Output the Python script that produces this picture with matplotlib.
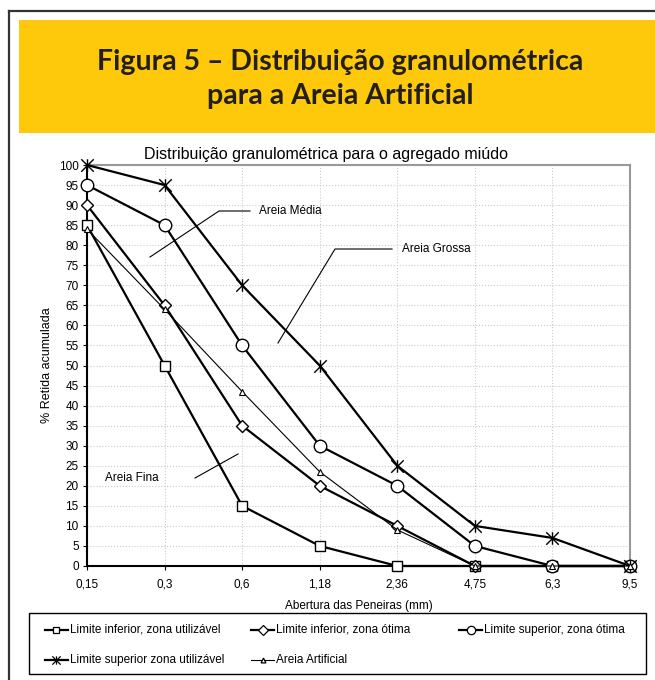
import matplotlib
matplotlib.use("Agg")
import matplotlib.pyplot as plt
from matplotlib.path import Path
from matplotlib.lines import Line2D
from matplotlib.patches import Rectangle
import numpy as np

plt.rcParams['font.family'] = ['Liberation Sans', 'DejaVu Sans']

sieves = ['0,15', '0,3', '0,6', '1,18', '2,36', '4,75', '6,3', '9,5']
lim_inf_util = [85, 50, 15, 5, 0, 0, 0, 0]
lim_inf_otima = [90, 65, 35, 20, 10, 0, 0, 0]
lim_sup_otima = [95, 85, 55, 30, 20, 5, 0, 0]
lim_sup_util = [100, 95, 70, 50, 25, 10, 7, 0]
areia_artificial = [84, 64, 43.5, 23.5, 9, 0, 0, 0]
yticks = list(range(0, 101, 5))

W, H = 655, 680
fig = plt.figure(figsize=(W / 100, H / 100), dpi=100)

def fx(px):
    return px / W

def fy(py):
    return 1 - py / H

# outer frame and yellow band
fig.add_artist(Line2D([fx(9), fx(9)], [fy(11), fy(680)], color='#333333', lw=1.6))
fig.add_artist(Line2D([fx(9), fx(655)], [fy(11), fy(11)], color='#333333', lw=1.6))
fig.add_artist(Rectangle((fx(19), fy(133)), fx(655) - fx(19), fy(20) - fy(133),
                         facecolor='#FDC90A', edgecolor='none'))
fig.text(fx(340), fy(62), 'Figura 5 – Distribuição granulométrica', ha='center', va='center',
         fontsize=20.5, fontfamily=['Lato', 'DejaVu Sans'], fontweight='bold', color='#231F20')
fig.text(fx(340), fy(96), 'para a Areia Artificial', ha='center', va='center',
         fontsize=20.5, fontfamily=['Lato', 'DejaVu Sans'], fontweight='bold', color='#231F20')

# axes
x0, x1, ytop, ybot = 87, 630, 165, 566
ax = fig.add_axes([fx(x0), fy(ybot), fx(x1) - fx(x0), fy(ytop) - fy(ybot)])
x = np.arange(len(sieves))

star = Path([(0, -1), (0, 1), (-1, -1), (1, 1), (-1, 1), (1, -1)],
            [Path.MOVETO, Path.LINETO, Path.MOVETO, Path.LINETO, Path.MOVETO, Path.LINETO])

common = dict(color='black', lw=1.6, mfc='white', mec='black', clip_on=False, zorder=3)
ax.plot(x, lim_inf_util, marker='s', ms=6.5, mew=1.0, **common)
ax.plot(x, lim_inf_otima, marker='D', ms=6.5, mew=1.0, **common)
ax.plot(x, lim_sup_otima, marker='o', ms=9, mew=1.0, **common)
ax.plot(x, lim_sup_util, marker=star, ms=9, mew=1.0, **common)
ax.plot(x, areia_artificial, color='black', lw=0.8, marker='^', ms=4, mfc='white',
        mec='black', mew=0.8, clip_on=False, zorder=4)

ax.set_xlim(0, len(sieves) - 1)
ax.set_ylim(0, 100)
ax.set_xticks(x)
ax.set_xticklabels(sieves)
ax.set_yticks(yticks)
ax.tick_params(labelsize=8.5, length=3, width=0.8, pad=3)
ax.tick_params(axis='x', pad=6)
ax.grid(True, color='#cccccc', linestyle=':', linewidth=0.8)
ax.set_axisbelow(True)
for s in ['left', 'bottom']:
    ax.spines[s].set_color('black')
    ax.spines[s].set_linewidth(1.5)
for s in ['top', 'right']:
    ax.spines[s].set_color('#999999')
    ax.spines[s].set_linewidth(1.5)

fig.text(fx(326), fy(155), 'Distribuição granulométrica para o agregado miúdo',
         fontsize=11.5, ha='center', va='center')
ax.set_ylabel('% Retida acumulada', fontsize=9)
ax.set_xlabel('Abertura das Peneiras (mm)', fontsize=8.5, labelpad=7)

# annotations (figure pixel coordinates)
def ann_line(pts):
    xs = [fx(p[0]) for p in pts]
    ys = [fy(p[1]) for p in pts]
    fig.add_artist(Line2D(xs, ys, color='black', lw=0.8))

ann_line([(150, 257), (219, 211), (250, 211)])
fig.text(fx(259), fy(211), 'Areia Média', fontsize=8.5, va='center', ha='left')
ann_line([(278, 343), (335, 249), (392, 249)])
fig.text(fx(402), fy(249), 'Areia Grossa', fontsize=8.5, va='center', ha='left')
ann_line([(195, 478), (238, 454)])
fig.text(fx(105), fy(478), 'Areia Fina', fontsize=8.5, va='center', ha='left')

# legend box
fig.add_artist(Rectangle((fx(29), fy(674)), fx(646) - fx(29), fy(613) - fy(674),
                         facecolor='white', edgecolor='black', lw=1.0))
entries = [
    ('Limite inferior, zona utilizável', 's', 45, 630, 5, 1.6),
    ('Limite inferior, zona ótima', 'D', 251, 630, 5, 1.6),
    ('Limite superior, zona ótima', 'o', 459, 630, 6, 1.6),
    ('Limite superior zona utilizável', star, 45, 660, 6, 1.6),
    ('Areia Artificial', '^', 251, 660, 3.5, 0.8),
]
for label, mk, lx, ly, ms, lw in entries:
    fig.add_artist(Line2D([fx(lx), fx(lx + 23)], [fy(ly), fy(ly)], color='black', lw=lw))
    fig.add_artist(Line2D([fx(lx + 11.5)], [fy(ly)], marker=mk, ms=ms, mfc='white',
                          mec='black', mew=0.9, color='black', lw=0))
    fig.text(fx(lx + 25), fy(ly), label, fontsize=8.5, va='center', ha='left')

fig.savefig('out.png', dpi=100)
